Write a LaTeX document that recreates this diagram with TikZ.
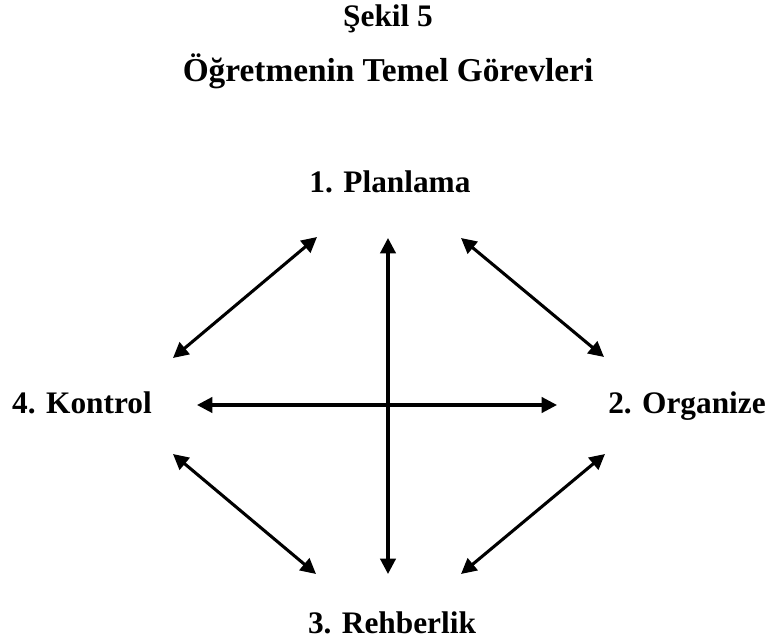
\documentclass[tikz,border=0pt]{standalone}
\usepackage{fontspec}
\setmainfont{Liberation Serif}
\usetikzlibrary{arrows.meta}
\begin{document}
\begin{tikzpicture}[x=0.75pt,y=-0.75pt,
  label/.style={font=\fontsize{23.5}{28}\selectfont\bfseries, inner sep=0pt, anchor=base},
  link/.style={line width=2.3pt, {Triangle[length=11.5pt,width=11.5pt]}-{Triangle[length=11.5pt,width=11.5pt]}}]
  \useasboundingbox (0,0) rectangle (771,641);
  % title
  \node[label] (title1) at (388,27) {Şekil 5};
  \node[label, font=\fontsize{25}{30}\selectfont\bfseries] (title2) at (388,82) {Öğretmenin Temel Görevleri};
  % the four duties
  \node[label] (plan) at (390,193) {1. Planlama};
  \node[label] (org)  at (687,413) {2. Organize};
  \node[label] (reh)  at (392,633) {3. Rehberlik};
  \node[label] (kon)  at (82,413)  {4. Kontrol};
  % arrow ends
  \coordinate (vt) at (388,238);
  \coordinate (vb) at (388,574);
  \coordinate (hl) at (197,405);
  \coordinate (hr) at (557,405);
  \coordinate (ult) at (317,237);
  \coordinate (ulb) at (173,358);
  \coordinate (urt) at (461,238);
  \coordinate (urb) at (604,357);
  \coordinate (llt) at (173,454);
  \coordinate (llb) at (316,574);
  \coordinate (lrt) at (605,454);
  \coordinate (lrb) at (461,574);
  % connectors
  \draw[link] (vt) -- (vb);
  \draw[link] (hl) -- (hr);
  \draw[link] (ult) -- (ulb);
  \draw[link] (urt) -- (urb);
  \draw[link] (llt) -- (llb);
  \draw[link] (lrt) -- (lrb);
\end{tikzpicture}
\end{document}
